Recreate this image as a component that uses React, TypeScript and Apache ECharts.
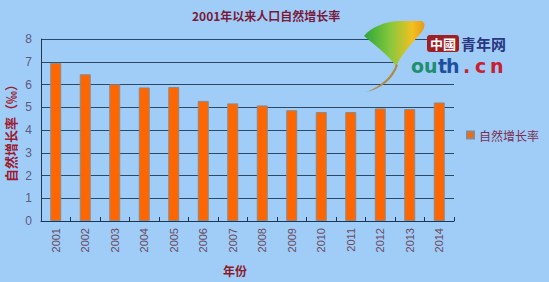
import React, { useEffect, useRef } from "react";
import * as echarts from "echarts";

const years = ["2001", "2002", "2003", "2004", "2005", "2006", "2007", "2008", "2009", "2010", "2011", "2012", "2013", "2014"];
const rates = [6.95, 6.45, 6.01, 5.87, 5.89, 5.28, 5.17, 5.08, 4.87, 4.79, 4.79, 4.95, 4.92, 5.21];
const yMin = 0;
const yMax = 8;
const yInterval = 1;
const titleText = "2001年以来人口自然增长率";
const xName = "年份";
const yName = "自然增长率（‰）";
const seriesName = "自然增长率";

const leafPath =
  "M364,36 C371,27 386,21 401,21 L422,21 C426,23 425,28 421,33 C412,43 402,54 396,66 C389,56 376,46 364,36 Z";
const stemPath = "M396,64 C393,75 381,87 366,92 C382,89 394,78 398,65 Z";

let registered = false;
function registerShapes() {
  if (registered) return;
  echarts.graphic.registerShape("leaf", echarts.graphic.extendPath(leafPath, {}) as any);
  echarts.graphic.registerShape("stem", echarts.graphic.extendPath(stemPath, {}) as any);
  registered = true;
}

const bg = "#A0CDF8";
const gridColor = "#2C4A66";
const axisColor = "#1F3550";

export default function App() {
  const ref = useRef<HTMLDivElement>(null);
  useEffect(() => {
    if (!ref.current) return;
    registerShapes();
    const chart = echarts.init(ref.current, undefined, { renderer: "svg" });
    const letters = [
      { t: "o", x: 411, c: "#1E8F6E" },
      { t: "u", x: 424, c: "#1E8F6E" },
      { t: "t", x: 438, c: "#1F4FA0" },
      { t: "h", x: 446, c: "#1F4FA0" },
      { t: ".", x: 463, c: "#C8202E" },
      { t: "c", x: 475, c: "#C8202E" },
      { t: "n", x: 490, c: "#C8202E" },
    ];
    chart.setOption({
      animation: false,
      backgroundColor: bg,
      title: {
        text: titleText,
        left: 187,
        top: 4,
        textStyle: {
          fontFamily: "Noto Sans CJK SC",
          fontSize: 12,
          fontWeight: "bold",
          color: "#7A1A3A",
        },
      },
      legend: {
        data: [seriesName],
        orient: "vertical",
        left: 461,
        top: 124,
        icon: "rect",
        itemWidth: 7,
        itemHeight: 7,
        itemGap: 6,
        textStyle: { fontFamily: "Noto Sans CJK SC", fontSize: 12, color: "#7A3050" },
      },
      grid: { left: 41, top: 39, right: 95, bottom: 61, outerBoundsMode: "none", containLabel: false },
      xAxis: {
        type: "category",
        data: years,
        boundaryGap: true,
        axisLine: { lineStyle: { color: axisColor, width: 1 } },
        axisTick: { show: true, inside: true, length: 4, lineStyle: { color: axisColor } },
        axisLabel: {
          rotate: 90,
          margin: 7,
          fontFamily: "Liberation Sans",
          fontSize: 11,
          color: "#6A4A5C",
          interval: 0,
        },
      },
      yAxis: {
        type: "value",
        min: yMin,
        max: yMax,
        interval: yInterval,
        axisLine: { show: true, lineStyle: { color: axisColor, width: 1 } },
        axisTick: { show: false },
        axisLabel: {
          margin: 9,
          fontFamily: "Liberation Sans",
          fontSize: 12,
          color: "#5E5A7E",
        },
        splitLine: { show: true, lineStyle: { color: gridColor, width: 1 } },
      },
      series: [
        {
          name: seriesName,
          type: "bar",
          data: rates,
          barWidth: 11,
          itemStyle: { color: "#FF6600", borderColor: "#8A8A8A", borderWidth: 1 },
        },
      ],
      graphic: [
        {
          type: "text",
          x: 10,
          y: 130,
          rotation: Math.PI / 2,
          style: {
            text: yName,
            fill: "#9B1B30",
            fontFamily: "Noto Sans CJK SC",
            fontWeight: "bold",
            fontSize: 13,
            align: "center",
            verticalAlign: "middle",
          },
        },
        {
          type: "text",
          x: 235,
          y: 270,
          style: {
            text: xName,
            fill: "#8B1A2A",
            fontFamily: "Noto Sans CJK SC",
            fontWeight: "bold",
            fontSize: 12,
            align: "center",
            verticalAlign: "middle",
          },
        },
        { type: "rect", z: 100, shape: { x: 398, y: 54, width: 58, height: 24 }, style: { fill: bg } },
        { type: "rect", z: 100, shape: { x: 428, y: 34, width: 28, height: 18 }, style: { fill: bg } },
        {
          type: "leaf",
          z: 101,
          x: 0,
          y: 0,
          style: {
            fill: {
              type: "linear",
              x: 0,
              y: 0,
              x2: 1,
              y2: 0,
              colorStops: [
                { offset: 0, color: "#2AA63A" },
                { offset: 0.45, color: "#8CC83C" },
                { offset: 0.8, color: "#F2C020" },
                { offset: 1, color: "#E89A1A" },
              ],
            },
          },
        },
        { type: "stem", z: 101, x: 0, y: 0, style: { fill: "#B08A40" } },
        {
          type: "rect",
          z: 101,
          shape: { x: 427, y: 35, width: 32, height: 17, r: 3 },
          style: { fill: "#9E1F24" },
        },
        {
          type: "text",
          z: 102,
          x: 443,
          y: 43.5,
          style: {
            text: "中國",
            fill: "#FFFFFF",
            fontFamily: "Noto Sans CJK TC",
            fontWeight: "bold",
            fontSize: 13,
            align: "center",
            verticalAlign: "middle",
          },
        },
        {
          type: "text",
          z: 102,
          x: 461,
          y: 43.5,
          style: {
            text: "青年网",
            fill: "#2A3580",
            fontFamily: "Noto Sans CJK SC",
            fontWeight: "bold",
            fontSize: 15,
            align: "left",
            verticalAlign: "middle",
          },
        },
        ...letters.map((l) => ({
          type: "text",
          z: 102,
          x: l.x,
          y: 75,
          style: {
            text: l.t,
            fill: l.c,
            fontFamily: "DejaVu Sans",
            fontWeight: "bold",
            fontSize: 19,
            align: "left",
            verticalAlign: "bottom",
          },
        })),
      ],
    });
    return () => chart.dispose();
  }, []);
  return <div ref={ref} style={{ position: "fixed", left: 0, top: 0, width: 549, height: 282 }} />;
}
